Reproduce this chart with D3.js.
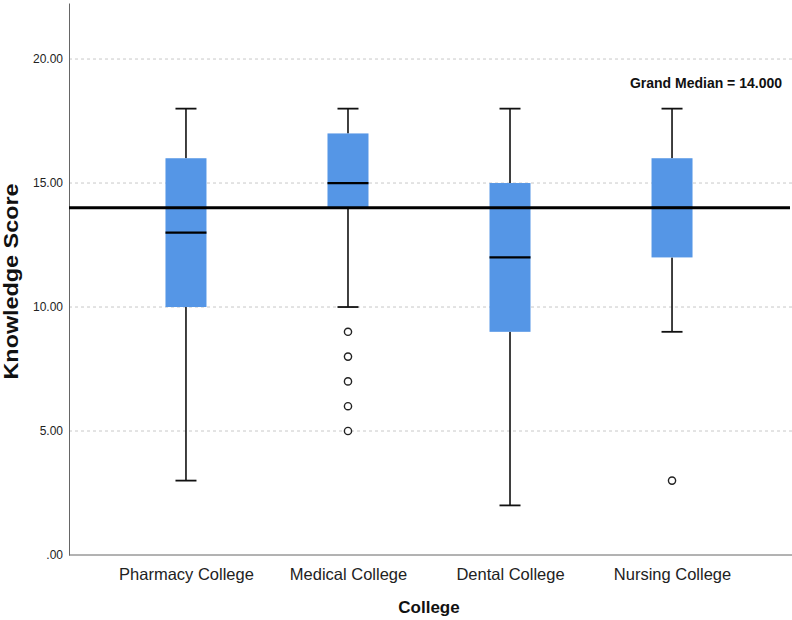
<!DOCTYPE html>
<html><head><meta charset="utf-8">
<script src="https://cdn.jsdelivr.net/npm/d3@7"></script>
<style>body{margin:0;background:#fff}svg{display:block;font-family:"Liberation Sans",Arial,sans-serif}</style>
</head><body><svg id="c" width="792" height="620"></svg>
<script>
const categories = ["Pharmacy College","Medical College","Dental College","Nursing College"];
const whiskerLow = [3,10,2,9];
const q1 = [10,14,9,12];
const medians = [13,15,12,14];
const q3 = [16,17,15,16];
const whiskerHigh = [18,18,18,18];
const outliers = [[],[9,8,7,6,5],[],[3]];
const yTicks = [0,5,10,15,20];
const grandMedian = 14;

const svg = d3.select("#c");
const L=69, R=789, T=3, B=555;
const x = d3.scalePoint().domain(categories).range([L,R]).padding(0.722);
const y = d3.scaleLinear().domain([0,22.26]).range([B,T]);

// gridlines
svg.append("g").selectAll("line").data(yTicks.filter(d=>d>0)).join("line")
  .attr("x1",L).attr("x2",792).attr("y1",d=>y(d)).attr("y2",d=>y(d))
  .attr("stroke","#c8c8c8").attr("stroke-width",1).attr("stroke-dasharray","3,3");

// y axis
const ya = svg.append("g").attr("transform",`translate(${L},0)`)
  .call(d3.axisLeft(y).tickValues(yTicks).tickSize(0).tickPadding(6)
    .tickFormat(d=>d===0?".00":d3.format(".2f")(d)));
ya.select(".domain").attr("stroke","#666");
ya.selectAll("text").attr("font-size","12px").attr("fill","#222").attr("font-family","Liberation Sans, Arial, sans-serif");

// x axis
const xa = svg.append("g").attr("transform",`translate(0,${B})`)
  .call(d3.axisBottom(x).tickSize(0).tickPadding(13));
xa.select(".domain").attr("d",`M${L},0H792`).attr("stroke","#666");
xa.selectAll("text").attr("font-size","16.5px").attr("fill","#222").attr("font-family","Liberation Sans, Arial, sans-serif");

const bw = 41, cw = 21;
const g = svg.append("g");
categories.forEach((c,i)=>{
  const cx = x(c);
  g.append("line").attr("x1",cx).attr("x2",cx).attr("y1",y(whiskerHigh[i])).attr("y2",y(q3[i])).attr("stroke","#111").attr("stroke-width",1.6);
  g.append("line").attr("x1",cx).attr("x2",cx).attr("y1",y(q1[i])).attr("y2",y(whiskerLow[i])).attr("stroke","#111").attr("stroke-width",1.6);
  g.append("line").attr("x1",cx-cw/2).attr("x2",cx+cw/2).attr("y1",y(whiskerHigh[i])).attr("y2",y(whiskerHigh[i])).attr("stroke","#111").attr("stroke-width",1.8);
  g.append("line").attr("x1",cx-cw/2).attr("x2",cx+cw/2).attr("y1",y(whiskerLow[i])).attr("y2",y(whiskerLow[i])).attr("stroke","#111").attr("stroke-width",1.8);
  g.append("rect").attr("x",cx-bw/2).attr("width",bw).attr("y",y(q3[i])).attr("height",y(q1[i])-y(q3[i])).attr("fill","#5596e6");
  g.append("line").attr("x1",cx-bw/2).attr("x2",cx+bw/2).attr("y1",y(medians[i])).attr("y2",y(medians[i])).attr("stroke","#000").attr("stroke-width",2.2);
  outliers[i].forEach(v=>{
    g.append("circle").attr("cx",cx).attr("cy",y(v)).attr("r",3.6).attr("fill","#fff").attr("stroke","#222").attr("stroke-width",1.4);
  });
});

// grand median
svg.append("line").attr("x1",L).attr("x2",790).attr("y1",y(grandMedian)).attr("y2",y(grandMedian)).attr("stroke","#000").attr("stroke-width",3);
svg.append("text").attr("x",782).attr("y",88).attr("text-anchor","end").attr("font-size","14px").attr("font-weight","bold").attr("fill","#111")
  .text("Grand Median = " + d3.format(".3f")(grandMedian));

// axis titles
svg.append("text").attr("transform",`translate(18,${(183+380)/2}) rotate(-90)`).attr("text-anchor","middle")
  .attr("font-size","19.5px").attr("font-weight","bold").attr("fill","#111")
  .attr("textLength",196).attr("lengthAdjust","spacingAndGlyphs").text("Knowledge Score");
svg.append("text").attr("x",429).attr("y",613).attr("text-anchor","middle")
  .attr("font-size","17px").attr("font-weight","bold").attr("fill","#111").text("College");
</script></body></html>
